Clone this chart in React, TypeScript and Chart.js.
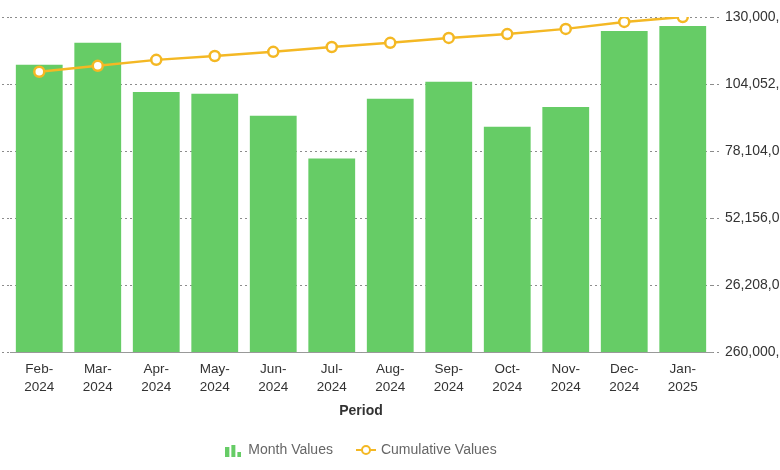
import React, { useEffect, useRef } from "react";
import { Chart, registerables } from "chart.js";

Chart.register(...registerables);

const categories = [
  "Feb-2024", "Mar-2024", "Apr-2024", "May-2024", "Jun-2024", "Jul-2024",
  "Aug-2024", "Sep-2024", "Oct-2024", "Nov-2024", "Dec-2024", "Jan-2025",
];
const monthValues = [
  111.5e9, 120.0e9, 101.0e9, 100.3e9, 91.8e9, 75.2e9,
  98.3e9, 104.9e9, 87.5e9, 95.2e9, 124.6e9, 126.5e9,
];
const cumulativeValues = [
  108.8e9, 111.1e9, 113.4e9, 114.9e9, 116.5e9, 118.4e9,
  120.0e9, 121.9e9, 123.4e9, 125.4e9, 128.1e9, 130.0e9,
];
const tickValues = [260e6, 26208e6, 52156e6, 78104e6, 104052e6, 130000e6];

const BAR_COLOR = "#66CC66";
const LINE_COLOR = "#F4B824";
const GRID_COLOR = "#8c8c8c";
const FONT = "'Helvetica Neue', Helvetica, Arial, 'Liberation Sans', sans-serif";

function makeBarIcon(): HTMLCanvasElement {
  const c = document.createElement("canvas");
  c.width = 16;
  c.height = 14;
  const ctx = c.getContext("2d")!;
  ctx.fillStyle = BAR_COLOR;
  ctx.fillRect(0, 4, 4, 10);
  ctx.fillRect(6, 2, 4, 12);
  ctx.fillRect(12, 9, 4, 5);
  return c;
}

function makeLineIcon(): HTMLCanvasElement {
  const c = document.createElement("canvas");
  c.width = 20;
  c.height = 14;
  const ctx = c.getContext("2d")!;
  ctx.strokeStyle = LINE_COLOR;
  ctx.lineWidth = 2;
  ctx.beginPath();
  ctx.moveTo(0, 7);
  ctx.lineTo(20, 7);
  ctx.stroke();
  ctx.beginPath();
  ctx.arc(10, 7, 4, 0, Math.PI * 2);
  ctx.fillStyle = "#fff";
  ctx.fill();
  ctx.stroke();
  return c;
}

export default function App() {
  const ref = useRef<HTMLCanvasElement | null>(null);

  useEffect(() => {
    document.body.style.margin = "0";
    const canvas = ref.current;
    if (!canvas) return;
    const icons = [makeBarIcon(), makeLineIcon()];

    const setTicks = (scale: any) => {
      scale.ticks = tickValues.map((v) => ({ value: v }));
    };

    const chart = new Chart(canvas, {
      type: "bar",
      data: {
        labels: categories,
        datasets: [
          {
            type: "bar",
            label: "Month Values",
            data: monthValues,
            backgroundColor: BAR_COLOR,
            borderWidth: 0,
            barPercentage: 0.8,
            categoryPercentage: 1.0,
            yAxisID: "y1",
            order: 1,
          } as any,
          {
            type: "line",
            label: "Cumulative Values",
            data: cumulativeValues,
            borderColor: LINE_COLOR,
            backgroundColor: "#ffffff",
            borderWidth: 2.5,
            pointRadius: 5,
            pointBorderWidth: 2.5,
            pointBackgroundColor: "#ffffff",
            pointBorderColor: LINE_COLOR,
            tension: 0,
            yAxisID: "y1",
            order: 0,
          } as any,
        ],
      },
      options: {
        responsive: true,
        maintainAspectRatio: false,
        animation: false,
        layout: { padding: { left: 2, right: 0, top: 17, bottom: 3 } },
        plugins: {
          tooltip: { enabled: false },
          legend: {
            position: "bottom",
            fullSize: false,
            labels: {
              usePointStyle: true,
              pointStyleWidth: 16,
              padding: 25,
              color: "#666666",
              font: { family: FONT, size: 14 },
              sort: (a: any, b: any) => a.datasetIndex - b.datasetIndex,
              generateLabels: (ch: any) => {
                const items = Chart.defaults.plugins.legend.labels.generateLabels(ch);
                return items.map((it: any) => ({ ...it, pointStyle: icons[it.datasetIndex] }));
              },
            },
          },
        },
        scales: {
          x: {
            grid: { display: false, drawTicks: false },
            border: { display: true, color: "#999999", width: 1 },
            ticks: {
              color: "#333333",
              padding: 8,
              maxRotation: 0,
              autoSkip: false,
              font: { family: FONT, size: 13.5, lineHeight: 1.33 },
              callback: (_v: any, i: number) => {
                const s = categories[i];
                const k = s.indexOf("-");
                return [s.slice(0, k + 1), s.slice(k + 1)];
              },
            },
            title: {
              display: true,
              text: "Period",
              color: "#333333",
              font: { family: FONT, size: 14, weight: "bold", lineHeight: 1.0 },
              padding: { top: 0, bottom: 0 },
            },
          },
          y: {
            position: "left",
            min: tickValues[0],
            max: tickValues[tickValues.length - 1],
            afterBuildTicks: setTicks,
            grid: {
              color: GRID_COLOR,
              tickLength: 8,
              lineWidth: 1,
              tickBorderDash: [2, 3],
            },
            border: { display: false, dash: [2, 3] },
            ticks: { display: false },
          } as any,
          y1: {
            position: "right",
            min: tickValues[0],
            max: tickValues[tickValues.length - 1],
            afterBuildTicks: setTicks,
            afterFit: (scale: any) => {
              scale.width = 68;
            },
            grid: {
              drawOnChartArea: false,
              color: GRID_COLOR,
              tickLength: 7,
              tickBorderDash: [2, 3],
            },
            border: { display: false, dash: [2, 3] },
            ticks: {
              color: "#333333",
              padding: 6,
              font: { family: FONT, size: 14 },
              callback: (v: any) => Number(v).toLocaleString("en-US"),
            },
          } as any,
        },
      },
    });
    return () => chart.destroy();
  }, []);

  return (
    <div style={{ position: "relative", width: 780, height: 470 }}>
      <canvas ref={ref} />
    </div>
  );
}
